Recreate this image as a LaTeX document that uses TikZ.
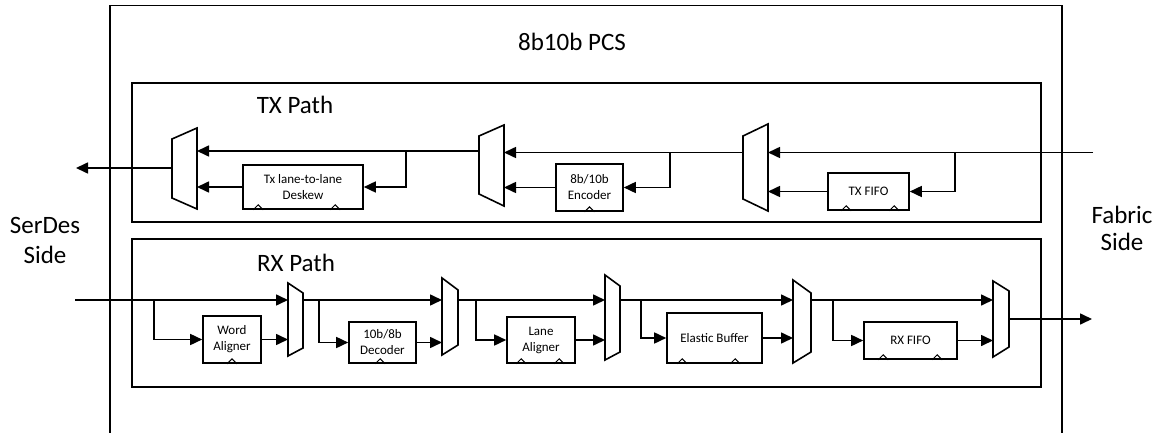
\documentclass[tikz,border=0pt]{standalone}
\usepackage{fontspec}
\setmainfont{Carlito}
\usetikzlibrary{arrows.meta,calc}
\newcommand\clkmark[1]{\draw[clk] ($(#1)+(-5,0)$) -- ($(#1)+(0,-5)$) -- ($(#1)+(5,0)$);}
\begin{document}
\begin{tikzpicture}[x=1pt,y=-1pt,
  frame/.style={line width=1.3pt},
  wire/.style={line width=1.6pt},
  arr/.style={wire,-{Triangle[length=12pt,width=11pt]}},
  blk/.style={draw,line width=1.6pt,inner sep=0pt,align=center,font=\fontsize{13}{16}\selectfont},
  muxst/.style={draw,line width=1.6pt,line join=miter},
  clk/.style={line width=1pt},
  big/.style={font=\fontsize{25}{30}\selectfont}]
\useasboundingbox (0,0) rectangle (1159,433);
% frames
\draw[frame] (110,433) -- (110,5.5) -- (1062,5.5) -- (1062,433);
\draw[frame] (132,83) rectangle (1041,222);
\draw[frame] (132,239) rectangle (1041,387);
% labels
\node[big] (pcs) at (572,42) {8b10b PCS};
\node[big] (txp) at (295,105) {TX Path};
\node[big] (rxp) at (296,263) {RX Path};
\node[big,align=center] (serdes) at (45,240) {SerDes\\Side};
\node[big,align=center,font=\fontsize{25}{27}\selectfont] (fabric) at (1122,228) {Fabric\\Side};
% ---------- TX path ----------
% muxes
\draw[muxst] (172,139) -- (197,128) -- (197,209) -- (172,198) -- cycle;
\draw[muxst] (479,136) -- (504,125) -- (504,206) -- (479,194) -- cycle;
\draw[muxst] (743,136) -- (768,124) -- (768,211) -- (743,199) -- cycle;
\coordinate (t1out) at (172,168);
\coordinate (t1in1) at (197,151);
\coordinate (t1in2) at (197,187);
\coordinate (t2out) at (479,151);
\coordinate (t2in1) at (504,152.5);
\coordinate (t2in2) at (504,187.5);
\coordinate (t3out) at (743,152.5);
\coordinate (t3in1) at (768,152.5);
\coordinate (t3in2) at (768,191.5);
\coordinate (txin) at (1093,152.5);
\coordinate (txout) at (76,168);
\coordinate (tb1) at (406,151);
\coordinate (tb2) at (670,152.5);
\coordinate (tb3) at (955,152.5);
% blocks
\node[blk,minimum width=120pt,minimum height=44pt] (deskew) at (303,187) {Tx lane-to-lane\\Deskew};
\node[blk,minimum width=67pt,minimum height=47pt] (enc) at (589.5,187.5) {8b/10b\\Encoder};
\node[blk,minimum width=81pt,minimum height=37pt] (txfifo) at (868.5,191.5) {TX FIFO};
% clocks
\clkmark{$(deskew.south west)+(16,0)$}
\clkmark{$(deskew.south west)+(93,0)$}
\clkmark{enc.south}
\clkmark{$(txfifo.south west)+(19,0)$}
\clkmark{$(txfifo.south west)+(67,0)$}
% wires
\draw[arr] (txin) -- (t3in1);
\draw[arr] (tb3) |- (txfifo.east);
\draw[arr] (txfifo.west) -- (t3in2);
\draw[arr] (t3out) -- (t2in1);
\draw[arr] (tb2) |- (enc.east);
\draw[arr] (enc.west) -- (t2in2);
\draw[arr] (t2out) -- (t1in1);
\draw[arr] (tb1) |- (deskew.east);
\draw[arr] (deskew.west) -- (t1in2);
\draw[arr] (t1out) -- (txout);
% ---------- RX path ----------
\draw[muxst] (288,283) -- (303,293) -- (303,348) -- (288,356) -- cycle;
\draw[muxst] (442,278) -- (458,290) -- (458,345) -- (442,355) -- cycle;
\draw[muxst] (605,275) -- (620,286) -- (620,352) -- (605,360) -- cycle;
\draw[muxst] (793,280) -- (811,293) -- (811,352) -- (793,363) -- cycle;
\draw[muxst] (993,281) -- (1009,291) -- (1009,347) -- (993,357) -- cycle;
\coordinate (rxin) at (75,300);
\coordinate (r1in1) at (288,300);
\coordinate (r1in2) at (288,339.5);
\coordinate (r1out) at (303,300);
\coordinate (r2in1) at (442,300);
\coordinate (r2in2) at (442,342.5);
\coordinate (r2out) at (458,300);
\coordinate (r3in1) at (605,300);
\coordinate (r3in2) at (605,340);
\coordinate (r3out) at (620,300);
\coordinate (r4in1) at (793,300);
\coordinate (r4in2) at (793,338);
\coordinate (r4out) at (811,300);
\coordinate (r5in1) at (993,300);
\coordinate (r5in2) at (993,340.5);
\coordinate (r5out) at (1009,319);
\coordinate (rxout) at (1092,319);
\coordinate (rb1) at (154,300);
\coordinate (rb2) at (319,300);
\coordinate (rb3) at (476,300);
\coordinate (rb4) at (641,300);
\coordinate (rb5) at (833,300);
\node[blk,minimum width=58pt,minimum height=47pt] (wa) at (232,339.5) {Word\\Aligner};
\node[blk,minimum width=67pt,minimum height=41pt] (dec) at (382.5,342.5) {10b/8b\\Decoder};
\node[blk,minimum width=68pt,minimum height=46pt] (la) at (541,340) {Lane\\Aligner};
\node[blk,minimum width=95pt,minimum height=50pt] (eb) at (714.5,338) {Elastic Buffer};
\node[blk,minimum width=93pt,minimum height=37pt] (rxfifo) at (910.5,340.5) {RX FIFO};
\clkmark{wa.south}
\clkmark{$(dec.south west)+(32,0)$}
\clkmark{$(la.south west)+(15,0)$}
\clkmark{$(la.south west)+(53,0)$}
\clkmark{$(eb.south west)+(16,0)$}
\clkmark{$(eb.south west)+(69,0)$}
\clkmark{$(rxfifo.south west)+(20,0)$}
\clkmark{$(rxfifo.south west)+(74,0)$}
\draw[arr] (rxin) -- (r1in1);
\draw[arr] (rb1) |- (wa.west);
\draw[arr] (wa.east) -- (r1in2);
\draw[arr] (r1out) -- (r2in1);
\draw[arr] (rb2) |- (dec.west);
\draw[arr] (dec.east) -- (r2in2);
\draw[arr] (r2out) -- (r3in1);
\draw[arr] (rb3) |- (la.west);
\draw[arr] (la.east) -- (r3in2);
\draw[arr] (r3out) -- (r4in1);
\draw[arr] (rb4) |- (eb.west);
\draw[arr] (eb.east) -- (r4in2);
\draw[arr] (r4out) -- (r5in1);
\draw[arr] (rb5) |- (rxfifo.west);
\draw[arr] (rxfifo.east) -- (r5in2);
\draw[arr] (r5out) -- (rxout);
\end{tikzpicture}
\end{document}
